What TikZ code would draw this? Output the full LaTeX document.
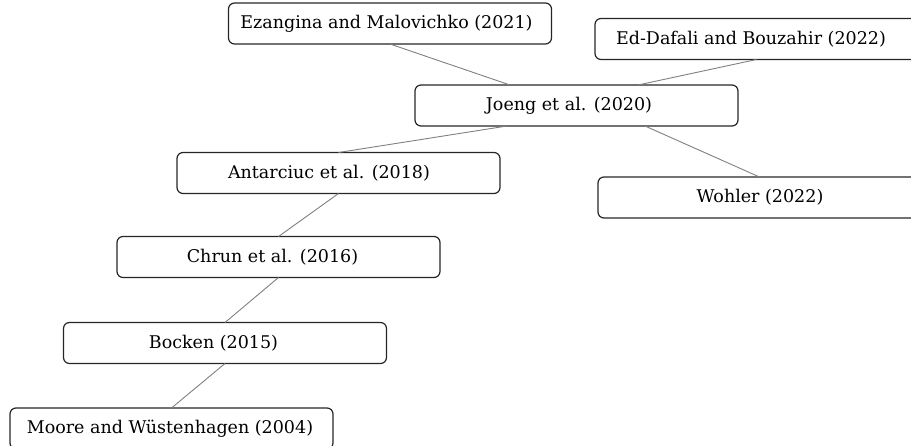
\documentclass[tikz,border=0pt]{standalone}
\usepackage{fontspec}
\setmainfont{DejaVu Serif}
\newcommand\shiftedtext[2]{\hspace*{#1}#2\hspace*{-#1}}
\begin{document}
\begin{tikzpicture}[x=1pt,y=-1pt,
  refbox/.style={draw=black!85, line width=1.2pt, rounded corners=6pt,
    minimum width=323pt, minimum height=41pt, inner sep=0pt, outer sep=0pt,
    font=\fontsize{17.5}{21}\selectfont},
  link/.style={draw=black!50, line width=0.9pt}]
\useasboundingbox (0,0) rectangle (911,445);
\clip (0,0) rectangle (911,445);
\node[refbox] (ez) at (390,23.5)  {\shiftedtext{-3.5pt}{Ezangina and Malovichko (2021)}};
\node[refbox] (ed) at (756.5,39)  {\shiftedtext{-5.5pt}{Ed-Dafali and Bouzahir (2022)}};
\node[refbox] (jo) at (576.5,105.5) {\shiftedtext{-7.5pt}{Joeng et al. (2020)}};
\node[refbox] (an) at (338.5,173) {\shiftedtext{-9.5pt}{Antarciuc et al. (2018)}};
\node[refbox] (wo) at (759.5,197.5) {\shiftedtext{0.5pt}{Wohler (2022)}};
\node[refbox] (ch) at (278.5,257) {\shiftedtext{-6pt}{Chrun et al. (2016)}};
\node[refbox] (bo) at (225,343)   {\shiftedtext{-11.5pt}{Bocken (2015)}};
\node[refbox] (mo) at (171.5,428.5) {\shiftedtext{-1.5pt}{Moore and Wüstenhagen (2004)}};
\draw[link] (ez.south) -- ([xshift=-66.5pt]jo.north);
\draw[link] (ed.south) -- ([xshift=61.5pt]jo.north);
\draw[link] ([xshift=-69.5pt]jo.south) -- (an.north);
\draw[link] ([xshift=68.5pt]jo.south) -- (wo.north);
\draw[link] (an.south) -- (ch.north);
\draw[link] (ch.south) -- (bo.north);
\draw[link] (bo.south) -- (mo.north);
\end{tikzpicture}
\end{document}
